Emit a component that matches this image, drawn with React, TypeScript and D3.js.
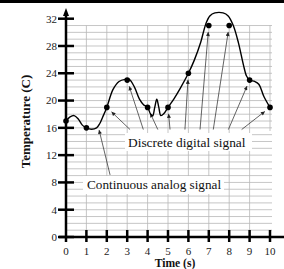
import React from "react";
import * as d3 from "d3";

const W = 284;
const H = 269;

const sampleTimes = [0, 1, 2, 3, 4, 5, 6, 7, 8, 9, 10];
const sampleTemps = [17, 16, 19, 23, 19, 19, 24, 31, 31, 23, 19];

const analogTimes = [0, 0.2, 0.4, 0.6, 0.8, 1, 1.25, 1.5, 1.65, 1.8, 2, 2.3, 2.6, 2.9, 3.1, 3.35, 3.6, 3.8, 4, 4.15, 4.25, 4.35, 4.45, 4.55, 4.65, 4.8, 5, 5.3, 5.6, 6, 6.3, 6.6, 6.85, 7.05, 7.3, 7.7, 7.95, 8.2, 8.45, 8.7, 8.85, 9, 9.25, 9.45, 9.7, 10];
const analogTemps = [17, 17.6, 17.8, 17.3, 16.4, 16, 15.8, 16, 16.6, 17.6, 19, 21.6, 22.8, 23.1, 23.1, 22, 20.2, 19.4, 19, 18, 17.8, 19, 20.2, 19, 17.8, 18.1, 19, 20.3, 21.8, 24, 26, 28.5, 31.2, 32.4, 32.85, 32.85, 32.4, 31, 28.5, 25.2, 23.6, 23, 22.8, 22.4, 20.6, 19];

const xTicks = [0, 1, 2, 3, 4, 5, 6, 7, 8, 9, 10];
const yTicks = [0, 4, 8, 12, 16, 20, 24, 28, 32];
const gridTemps = d3.range(1, 32);

// arrow start points (time) for the discrete label, one per sample index 2..10
const discreteArrowStarts = [3.14, 3.79, 4.5, 5.1, 5.83, 6.57, 7.22, 7.96, 8.61];
const discreteArrowTargets = [2, 3, 4, 5, 6, 7, 8, 9, 10];
const arrowStartTemp = 15.75;
const analogArrow = { from: [2.16, 9.1], to: [1.62, 15.7] };

const serif = "'Liberation Serif', 'Times New Roman', Times, serif";

export default function App() {
  const x = d3.scaleLinear().domain([0, 10]).range([66, 270]);
  const y = d3.scaleLinear().domain([0, 32]).range([237, 18.7]);

  const analog = analogTimes.map((t, i) => [t, analogTemps[i]] as [number, number]);
  const line = d3
    .line<[number, number]>()
    .x((d) => x(d[0]))
    .y((d) => y(d[1]))
    .curve(d3.curveCatmullRom.alpha(0.5));

  const arrows = discreteArrowTargets.map((idx, i) => {
    const sx = x(discreteArrowStarts[i]);
    const sy = y(arrowStartTemp);
    const dx = x(sampleTimes[idx]);
    const dy = y(sampleTemps[idx]);
    const len = Math.hypot(sx - dx, sy - dy);
    const off = 6.5;
    return {
      x1: sx,
      y1: sy,
      x2: dx + ((sx - dx) / len) * off,
      y2: dy + ((sy - dy) / len) * off,
    };
  });

  const ts = { fontFamily: serif };

  return (
    <svg
      width={W}
      height={H}
      style={{ position: "absolute", left: 0, top: 0, background: "#fff", fontFamily: serif }}
    >
      <defs>
        <marker
          id="ah"
          viewBox="0 0 10 10"
          refX="10"
          refY="5"
          markerWidth="5"
          markerHeight="4"
          markerUnits="userSpaceOnUse"
          orient="auto"
        >
          <path d="M0,0 L10,5 L0,10 z" fill="#222" />
        </marker>
      </defs>
      <rect x={0} y={0} width={W} height={3} fill="#000" />

      {/* grid */}
      <g stroke="#b8b8b8" strokeWidth={0.8}>
        {gridTemps.map((v) => (
          <line key={"h" + v} x1={x(0)} x2={x(10) + 2} y1={y(v)} y2={y(v)} />
        ))}
        {xTicks.slice(1).map((t) => (
          <line
            key={"v" + t}
            x1={x(t)}
            x2={x(t)}
            y1={y(31)}
            y2={t === 10 ? 131 : y(0)}
          />
        ))}
      </g>

      {/* label boxes */}
      <rect x={125} y={133} width={127} height={18} fill="#fff" />
      <rect x={83} y={176} width={141} height={18} fill="#fff" />
      <text x={128} y={146.5} fontSize={13.4} fill="#111" style={ts}>
        Discrete digital signal
      </text>
      <text x={87} y={189} fontSize={13.2} fill="#111" style={ts}>
        Continuous analog signal
      </text>

      {/* arrows */}
      <g stroke="#222" strokeWidth={0.7} fill="none">
        {arrows.map((a, i) => (
          <line key={i} x1={a.x1} y1={a.y1} x2={a.x2} y2={a.y2} markerEnd="url(#ah)" />
        ))}
        <line
          x1={x(analogArrow.from[0])}
          y1={y(analogArrow.from[1])}
          x2={x(analogArrow.to[0])}
          y2={y(analogArrow.to[1])}
          markerEnd="url(#ah)"
        />
      </g>

      {/* analog curve */}
      <path d={line(analog) || ""} fill="none" stroke="#000" strokeWidth={1.4} />

      {/* samples */}
      {sampleTimes.map((t, i) => (
        <circle key={t} cx={x(t)} cy={y(sampleTemps[i])} r={2.8} fill="#000" />
      ))}

      {/* axes */}
      <g stroke="#000" strokeWidth={2.5}>
        <line x1={x(0)} x2={x(0)} y1={242} y2={14} />
        <line x1={59} x2={W} y1={y(0)} y2={y(0)} />
        {yTicks.map((v) => (
          <line key={"yt" + v} x1={58} x2={74} y1={y(v)} y2={y(v)} />
        ))}
        {xTicks.slice(1).map((t) => (
          <line key={"xt" + t} x1={x(t)} x2={x(t)} y1={230} y2={242} />
        ))}
      </g>
      <path d={`M${x(0)},8 L${x(0) - 3},16 L${x(0) + 3},16 z`} fill="#000" />

      {/* tick labels */}
      {yTicks.map((v) => (
        <text key={"yl" + v} x={57} y={y(v) + 3.8} fontSize={11} textAnchor="end" fill="#222" style={ts}>
          {v}
        </text>
      ))}
      {xTicks.map((t) => (
        <text key={"xl" + t} x={x(t)} y={254.5} fontSize={11} textAnchor="middle" fill="#222" style={ts}>
          {t}
        </text>
      ))}

      <text x={175} y={266.5} fontSize={11.6} fontWeight="bold" textAnchor="middle" fill="#111" style={ts}>
        Time (s)
      </text>
      <text
        transform={`translate(30,121.5) rotate(-90)`}
        fontSize={13}
        fontWeight="bold"
        textAnchor="middle"
        fill="#111"
        style={ts}
      >
        Temperature (C)
      </text>
    </svg>
  );
}
